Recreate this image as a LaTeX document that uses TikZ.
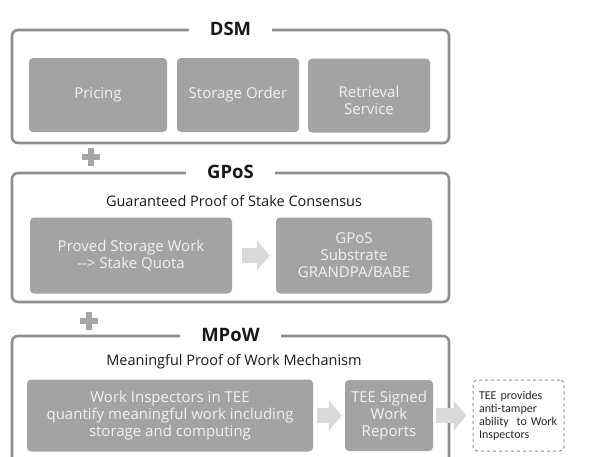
\documentclass[tikz,border=0pt]{standalone}
\usepackage{fontspec}
\setmainfont{Open Sans}
\newfontfamily\notefont{Carlito}
\usetikzlibrary{positioning,arrows.meta}

\definecolor{framegray}{HTML}{8E8E8E}
\definecolor{boxgray}{HTML}{A3A3A3}
\definecolor{arrowgray}{HTML}{D9D9D9}
\definecolor{plusgray}{HTML}{A6A6A6}

\tikzset{
  frame/.style={draw=framegray, line width=2.6pt, rounded corners=6pt},
  frametitle/.style={fill=white, inner xsep=21pt, inner ysep=3pt, text=black!90,
    font=\fontsize{18.5}{20}\selectfont\bfseries},
  subtitle/.style={text=black!90, font=\fontsize{14.5}{16}\selectfont},
  graybox/.style={fill=boxgray, rounded corners=4pt, text=white!95!black, align=center,
    inner sep=0pt, font=\fontsize{15}{17}\selectfont},
  flowarrow/.style={arrowgray, line width=15pt, -{Triangle[length=13pt,width=30pt]}},
  notebox/.style={draw=framegray, dashed, line width=1pt, rounded corners=4pt,
    align=left, text=black!85, inner xsep=6pt, font=\notefont\fontsize{12}{13}\selectfont},
  plussign/.style={plusgray, line width=6pt},
}

\begin{document}
\begin{tikzpicture}[x=1pt, y=-1pt]
    \useasboundingbox (0,0) rectangle (596,456);

    % DSM
    \node[frame, minimum width=437pt, minimum height=113pt] (dsm) at (230.5,86.5) {};
    \node[frametitle] (dsmtitle) at (dsm.north) {DSM};
    \node[graybox, minimum width=138pt, minimum height=74pt] (pricing) at (98,95) {Pricing};
    \node[graybox, minimum width=122pt, minimum height=74pt] (order) at (238,95) {Storage Order};
    \node[graybox, minimum width=122pt, minimum height=74pt] (retrieval) at (369,95.5)
        {\raisebox{-7pt}[\height][\depth]{\begin{tabular}{@{}c@{}}Retrieval\\Service\end{tabular}}};

    % plus
    \draw[plussign] (82,157) -- (100,157) (91,148) -- (91,166);

    % GPoS
    \node[frame, minimum width=437pt, minimum height=129pt] (gpos) at (230.5,237.5) {};
    \node[frametitle] (gpostitle) at (gpos.north) {GPoS};
    \node[subtitle] (gpossub) at (234,201) {Guaranteed Proof of Stake Consensus};
    \node[graybox, minimum width=202pt, minimum height=76pt] (proved) at (131,255.5)
        {Proved Storage Work\\-{}-> Stake Quota};
    \node[graybox, minimum width=156pt, minimum height=76pt] (substrate) at (354,255.5)
        {GPoS\\Substrate\\GRANDPA/BABE};
    \draw[flowarrow, shorten <=10pt, shorten >=6pt] (proved) -- (substrate);

    % plus
    \draw[plussign] (80,321) -- (98,321) (89,312) -- (89,330);

    % MPoW
    \node[frame, minimum width=437pt, minimum height=134pt] (mpow) at (230.5,403) {};
    \node[frametitle] (mpowtitle) at (mpow.north) {MPoW};
    \node[subtitle] (mpowsub) at (234,362) {Meaningful Proof of Work Mechanism};
    \node[graybox, minimum width=286pt, minimum height=72pt] (inspect) at (170,415.5)
        {Work Inspectors in TEE\\quantify meaningful work including\\storage and computing};
    \node[graybox, minimum width=88pt, minimum height=71pt] (signed) at (389,415.5)
        {TEE Signed\\Work\\Reports};
    \node[notebox, minimum width=91pt, minimum height=71pt, text width=79pt] (tamper) at (518.5,415.5)
        {TEE provides\\anti-tamper\\ability~ to Work\\Inspectors};
    \draw[flowarrow, shorten <=4pt, shorten >=3pt] (inspect) -- (signed);
    \draw[flowarrow, shorten <=3pt, shorten >=6pt] (signed) -- (tamper);
\end{tikzpicture}
\end{document}
